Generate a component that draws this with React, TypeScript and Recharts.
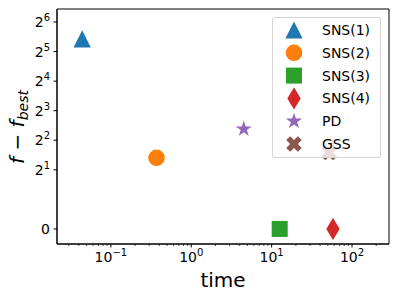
import React from 'react';
import { ScatterChart, Scatter, XAxis, YAxis, Legend, ReferenceArea } from 'recharts';

// ---- data ----
const seriesNames = ['SNS(1)', 'SNS(2)', 'SNS(3)', 'SNS(4)', 'PD', 'GSS'];
const timeValues = [0.044, 0.37, 12.6, 58, 4.5, 52];
const gapValues = [43, 2.65, 0, 0, 5.2, 3.0];
const seriesColors = ['#1f77b4', '#ff7f0e', '#2ca02c', '#d62728', '#9467bd', '#8c564b'];
const seriesMarkers = ['triangle', 'circle', 'square', 'thinDiamond', 'star', 'xFilled'];
const xMajorTicks = [0.1, 1, 10, 100];
const xMajorExponents = ['\u22121', '0', '1', '2'];
const xMinorTicks = [
  0.03, 0.04, 0.05, 0.06, 0.07, 0.08, 0.09,
  0.2, 0.3, 0.4, 0.5, 0.6, 0.7, 0.8, 0.9,
  2, 3, 4, 5, 6, 7, 8, 9,
  20, 30, 40, 50, 60, 70, 80, 90,
  200,
];
const yTickExponents = [1, 2, 3, 4, 5, 6];

const FONT = 'DejaVu Sans, sans-serif';
const X_DOMAIN = [Math.pow(10, -1.67), Math.pow(10, 2.46)];
const Y_DOMAIN = [-1.51, 6.44];

// symlog-like transform (base 2): 0 -> -1, 2 -> 1, 2^k -> k
const toT = (v: number) => (v >= 2 ? Math.log2(v) : v - 1);

const seriesData = seriesNames.map((name, i) => ({
  name,
  color: seriesColors[i],
  marker: seriesMarkers[i],
  data: [{ x: timeValues[i], t: toT(gapValues[i]) }],
}));

function drawMarker(kind: string, cx: number, cy: number, color: string, key?: string) {
  switch (kind) {
    case 'triangle': {
      const h = 8.6;
      return <polygon key={key} points={`${cx},${cy - h} ${cx - h},${cy + h} ${cx + h},${cy + h}`} fill={color} />;
    }
    case 'circle':
      return <circle key={key} cx={cx} cy={cy} r={8.3} fill={color} />;
    case 'square': {
      const h = 8;
      return <rect key={key} x={cx - h} y={cy - h} width={2 * h} height={2 * h} fill={color} />;
    }
    case 'thinDiamond': {
      const hy = 11.2;
      const hx = 6.7;
      return <polygon key={key} points={`${cx},${cy - hy} ${cx + hx},${cy} ${cx},${cy + hy} ${cx - hx},${cy}`} fill={color} />;
    }
    case 'star': {
      const R = 8.5;
      const r = R * 0.381966;
      const pts: string[] = [];
      for (let k = 0; k < 10; k++) {
        const ang = -Math.PI / 2 + (k * Math.PI) / 5;
        const rad = k % 2 === 0 ? R : r;
        pts.push(`${cx + rad * Math.cos(ang)},${cy + rad * Math.sin(ang)}`);
      }
      return <polygon key={key} points={pts.join(' ')} fill={color} />;
    }
    case 'xFilled': {
      const base = [[-1, -3], [1, -3], [1, -1], [3, -1], [3, 1], [1, 1], [1, 3], [-1, 3], [-1, 1], [-3, 1], [-3, -1], [-1, -1]];
      const u = 2.75;
      const c = Math.SQRT1_2;
      const pts = base.map(([px, py]) => {
        const rx = (px - py) * c;
        const ry = (px + py) * c;
        return `${cx + rx * u},${cy + ry * u}`;
      });
      return <polygon key={key} points={pts.join(' ')} fill={color} />;
    }
    default:
      return <circle key={key} cx={cx} cy={cy} r={8} fill={color} />;
  }
}

const XTick = (props: any) => {
  const { x, y, payload } = props;
  const v = payload.value;
  const idx = xMajorTicks.findIndex((m) => Math.abs(m - v) / m < 1e-6);
  if (idx < 0) {
    return <line x1={x} y1={y} x2={x} y2={y + 2} stroke="#000" strokeWidth={0.7} />;
  }
  return (
    <g>
      <line x1={x} y1={y} x2={x} y2={y + 3.5} stroke="#000" strokeWidth={1} />
      <text x={x} y={y + 18} textAnchor="middle" fontFamily={FONT} fontSize={14} fill="#000">
        <tspan>10</tspan>
        <tspan dy={-6} fontSize={10}>{xMajorExponents[idx]}</tspan>
      </text>
    </g>
  );
};

const YTick = (props: any) => {
  const { x, y, payload } = props;
  const t = payload.value;
  return (
    <g>
      <line x1={x} y1={y} x2={x - 3.5} y2={y} stroke="#000" strokeWidth={1} />
      {t === -1 ? (
        <text x={x - 7} y={y + 5} textAnchor="end" fontFamily={FONT} fontSize={14} fill="#000">0</text>
      ) : (
        <text x={x - 7} y={y + 5} textAnchor="end" fontFamily={FONT} fontSize={14} fill="#000">
          <tspan>2</tspan>
          <tspan dy={-6} fontSize={10}>{String(t)}</tspan>
        </text>
      )}
    </g>
  );
};

const YLabel = () => (
  <text
    x={0}
    y={0}
    transform="translate(24,127) rotate(-90)"
    textAnchor="middle"
    fontFamily={FONT}
    fontSize={20}
    fill="#000"
  >
    <tspan fontStyle="italic">f</tspan>
    <tspan>{' \u2212 '}</tspan>
    <tspan fontStyle="italic">f</tspan>
    <tspan fontStyle="italic" fontSize={14} dy={4}>best</tspan>
  </text>
);

const LEG_LEFT = 272;
const LEG_TOP = 17;
const LEG_W = 109;
const LEG_H = 141;

const LegendBox = () => (
  <div
    style={{
      boxSizing: 'border-box',
      width: LEG_W,
      height: LEG_H,
      background: 'rgba(255,255,255,0.8)',
      border: '1px solid rgba(204,204,204,0.8)',
      borderRadius: 3,
    }}
  >
    <svg width={LEG_W - 2} height={LEG_H - 2} style={{ display: 'block' }}>
      {seriesData.map((s, i) => {
        const cy = 30 - LEG_TOP - 1 + i * 22.8;
        return (
          <g key={s.name}>
            {drawMarker(s.marker, 294 - LEG_LEFT - 1, cy, s.color)}
            <text x={322 - LEG_LEFT - 1} y={cy + 5} fontFamily={FONT} fontSize={14} fill="#000">
              {s.name}
            </text>
          </g>
        );
      })}
    </svg>
  </div>
);

export default function App() {
  return (
    <div style={{ position: 'absolute', left: 0, top: 0, width: 399, height: 299 }}>
      <ScatterChart width={399} height={299} margin={{ top: 9, right: 10, bottom: 0, left: 0 }}>
        <XAxis
          xAxisId={0}
          dataKey="x"
          type="number"
          scale="log"
          domain={X_DOMAIN}
          allowDataOverflow
          ticks={[...xMajorTicks, ...xMinorTicks].sort((a, b) => a - b)}
          interval={0}
          tick={<XTick />}
          tickLine={false}
          tickSize={0}
          tickMargin={0}
          height={55}
          axisLine={{ stroke: '#000', strokeWidth: 1 }}
          label={{ value: 'time', position: 'insideBottom', offset: 12, fontFamily: FONT, fontSize: 20, fill: '#000' }}
        />
        <YAxis
          yAxisId={0}
          dataKey="t"
          type="number"
          domain={Y_DOMAIN}
          allowDataOverflow
          ticks={[-1, ...yTickExponents]}
          interval={0}
          tick={<YTick />}
          tickLine={false}
          tickSize={0}
          tickMargin={0}
          width={57}
          axisLine={{ stroke: '#000', strokeWidth: 1 }}
          label={<YLabel />}
        />
        <ReferenceArea
          xAxisId={0}
          yAxisId={0}
          x1={X_DOMAIN[0]}
          x2={X_DOMAIN[1]}
          y1={Y_DOMAIN[0]}
          y2={Y_DOMAIN[1]}
          fill="none"
          fillOpacity={0}
          stroke="#000"
          strokeWidth={1}
          strokeOpacity={1}
          ifOverflow="visible"
        />
        {seriesData.map((s) => (
          <Scatter
            key={s.name}
            name={s.name}
            data={s.data}
            xAxisId={0}
            yAxisId={0}
            fill={s.color}
            isAnimationActive={false}
            shape={(p: any) => drawMarker(s.marker, p.cx, p.cy, s.color)}
          />
        ))}
        <Legend
          layout="vertical"
          align="center"
          verticalAlign="middle"
          wrapperStyle={{ left: LEG_LEFT, top: LEG_TOP, width: LEG_W, height: LEG_H }}
          content={() => <LegendBox />}
        />
      </ScatterChart>
    </div>
  );
}
